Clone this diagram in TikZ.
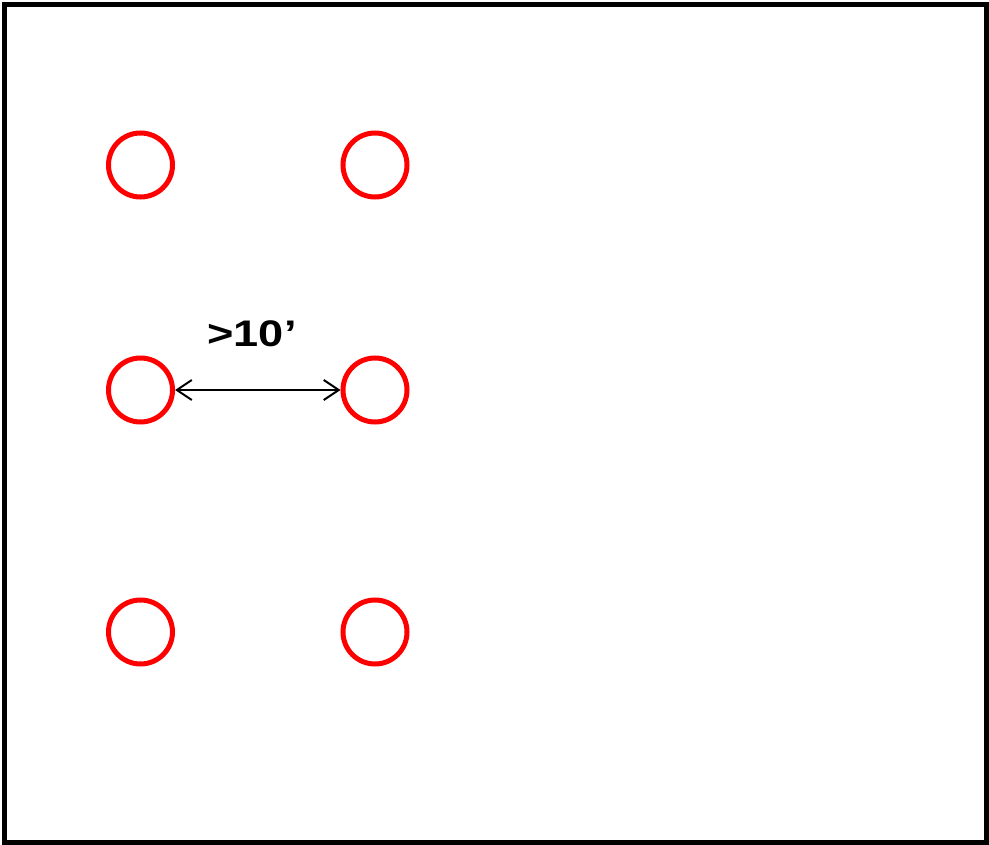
\documentclass[tikz,border=0pt]{standalone}
\usepackage{fontspec}
\setmainfont{Liberation Sans}
\usetikzlibrary{arrows.meta,positioning}

\begin{document}
\begin{tikzpicture}[
  x=1pt, y=-1pt,
  frame/.style={draw, line width=5pt},
  well/.style={circle, draw=red, line width=5pt, minimum size=64pt, inner sep=0pt},
  gap/.style={{Straight Barb[length=15pt, width=20pt]}-{Straight Barb[length=15pt, width=20pt]}, line width=2pt},
  label/.style={font=\fontsize{37}{40}\selectfont\bfseries, inner sep=0pt}
]
\useasboundingbox (0,0) rectangle (989,845);
\draw[frame] (4.5,4.5) rectangle (986.5,842);

\node[well] (w11) at (140.5,165) {};
\node[well] (w12) at (375,165) {};
\node[well] (w21) at (140.5,390) {};
\node[well] (w22) at (375,390) {};
\node[well] (w31) at (140.5,632) {};
\node[well] (w32) at (375,632) {};

\draw[gap] (w21) -- (w22);
\node[label, anchor=base] (dist) at (252,347) {\scalebox{1.22}[1]{>10’}};
\end{tikzpicture}
\end{document}
